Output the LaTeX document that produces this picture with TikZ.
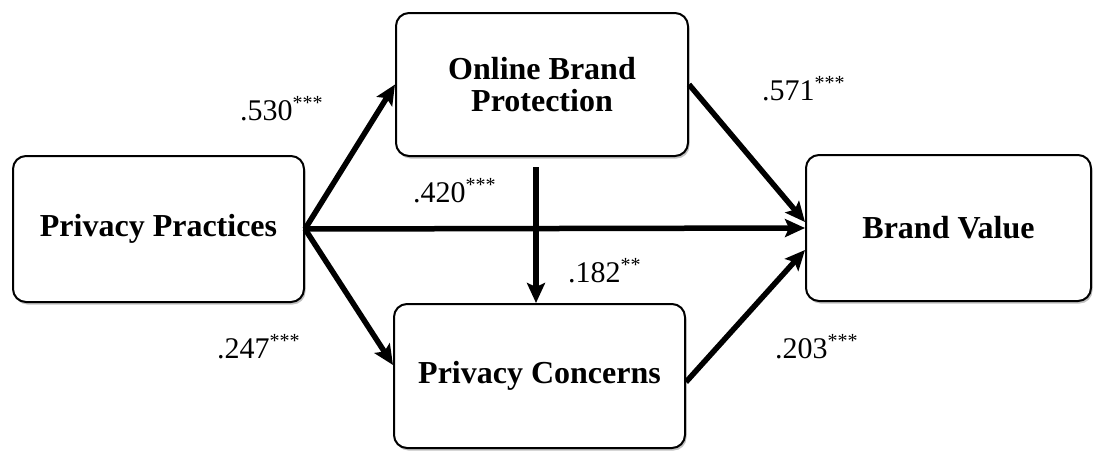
\documentclass[tikz,border=0pt]{standalone}
\usepackage{fontspec}
\setmainfont{Liberation Serif}
\usetikzlibrary{arrows.meta,shadows}

\tikzset{
  box/.style={draw=black, line width=2pt, rounded corners=13pt, fill=white,
    align=center, inner sep=0pt,
    font=\fontsize{32}{32}\selectfont\bfseries,
    drop shadow={shadow xshift=1.5pt, shadow yshift=-2.5pt, opacity=0.35, fill=black!70}},
  path/.style={line width=5.5pt, -{Stealth[length=20pt,width=18pt,inset=4pt]}},
  coef/.style={anchor=base west, inner sep=0pt, font=\fontsize{30}{30}\selectfont},
}
\newcommand{\sig}[1]{\raisebox{11pt}{\fontsize{20}{20}\selectfont #1}}

\begin{document}
\begin{tikzpicture}[x=1pt, y=-1pt]
  \useasboundingbox (0,0) rectangle (1094,451);

  % constructs
  \node[box, minimum width=291pt, minimum height=146pt] (pp)  at (158.5,229) {Privacy Practices};
  \node[box, minimum width=292pt, minimum height=143pt] (obp) at (542,84.5) {Online Brand\\Protection};
  \node[box, minimum width=291pt, minimum height=144pt] (pc)  at (539.5,376) {Privacy Concerns};
  \node[box, minimum width=285pt, minimum height=146pt] (bv)  at (948.5,228) {Brand Value};

  % structural paths
  \coordinate (vtop) at ([xshift=-6pt,yshift=-10pt]obp.south);
  \draw[path] (pp.east) -- (obp.west);
  \draw[path] (pp.east) -- ([yshift=11pt]pc.west);
  \draw[path] (pp.east) -- (bv.west);
  \draw[path] (obp.east) -- ([yshift=6pt]bv.west);
  \draw[path] ([yshift=-6pt]pc.east) -- ([yshift=-22pt]bv.west);
  \draw[path] (vtop) -- (vtop |- pc.north);

  % path coefficients
  \node[coef] (c1) at (240,120) {.530\sig{***}};
  \node[coef] (c2) at (762,100) {.571\sig{***}};
  \node[coef] (c3) at (413,202) {.420\sig{***}};
  \node[coef] (c4) at (568,282) {.182\sig{**}};
  \node[coef] (c5) at (217,358) {.247\sig{***}};
  \node[coef] (c6) at (775,358) {.203\sig{***}};
\end{tikzpicture}
\end{document}
